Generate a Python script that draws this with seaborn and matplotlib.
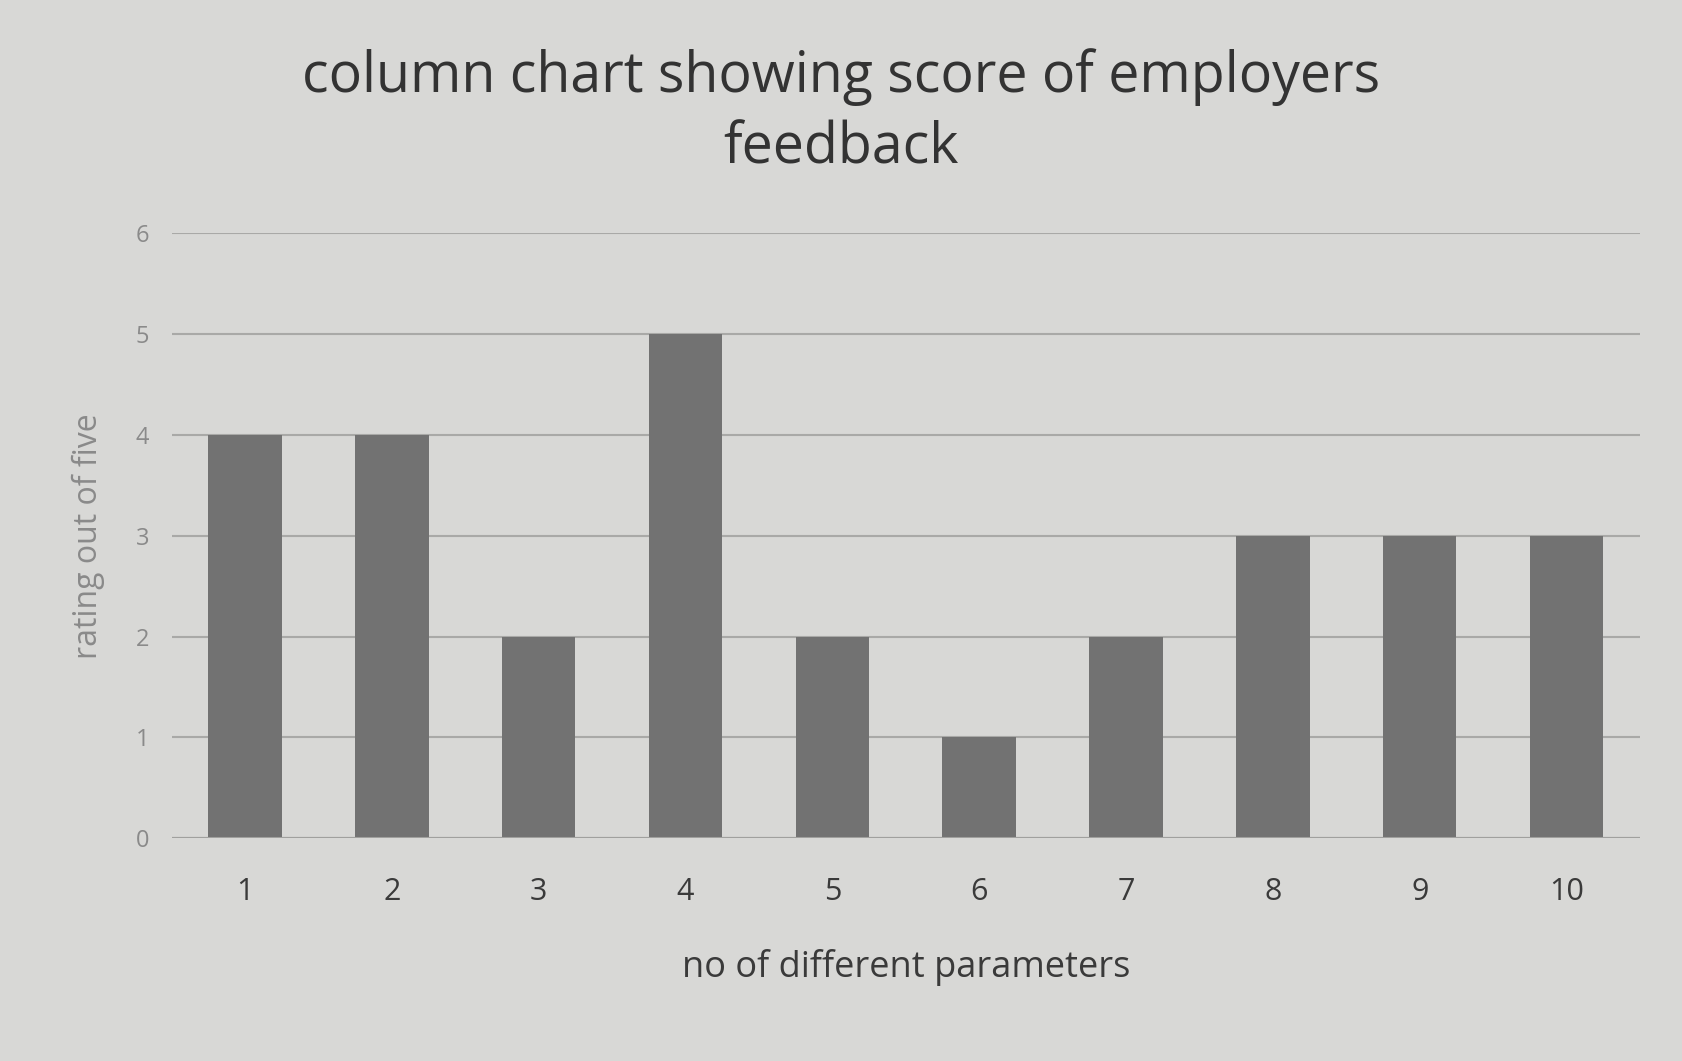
import matplotlib
matplotlib.use("Agg")
import matplotlib.pyplot as plt
import seaborn as sns
import pandas as pd

# data
parameters = ["1", "2", "3", "4", "5", "6", "7", "8", "9", "10"]
ratings = [4, 4, 2, 5, 2, 1, 2, 3, 3, 3]

df = pd.DataFrame({"parameter": parameters, "rating": ratings})

sns.set_theme(style="white")
plt.rcParams["font.family"] = ["Open Sans", "DejaVu Sans"]

bg = "#d8d8d6"
fig, ax = plt.subplots(figsize=(16.82, 10.61), dpi=100)
fig.patch.set_facecolor(bg)
ax.set_facecolor(bg)

sns.barplot(data=df, x="parameter", y="rating", color="#727272",
            width=0.5, saturation=1, linewidth=0, ax=ax, zorder=3)

ax.set_ylim(0, 6)
ax.set_yticks(range(0, 7))
ax.yaxis.grid(True, color="#a9a9a7", linewidth=1.5, zorder=0)
for s in ax.spines.values():
    s.set_visible(False)
ax.axhline(0, color="#a0a09e", linewidth=1.5, zorder=4)

ax.tick_params(axis="x", labelsize=22, colors="#3a3a3a", length=0, pad=28)
ax.tick_params(axis="y", labelsize=17, colors="#8a8a8a", length=0, pad=16)

ax.set_xlabel("no of different parameters", fontsize=26, color="#3a3a3a", labelpad=30)
ax.set_ylabel("rating out of five", fontsize=23, color="#8a8a8a", labelpad=22)
fig.suptitle("column chart showing score of employers\nfeedback",
             fontsize=40, color="#333333", x=0.5, y=0.955, linespacing=1.35)

plt.subplots_adjust(left=0.102, right=0.975, top=0.78, bottom=0.21)
plt.savefig("out.png", dpi=100, facecolor=bg)
